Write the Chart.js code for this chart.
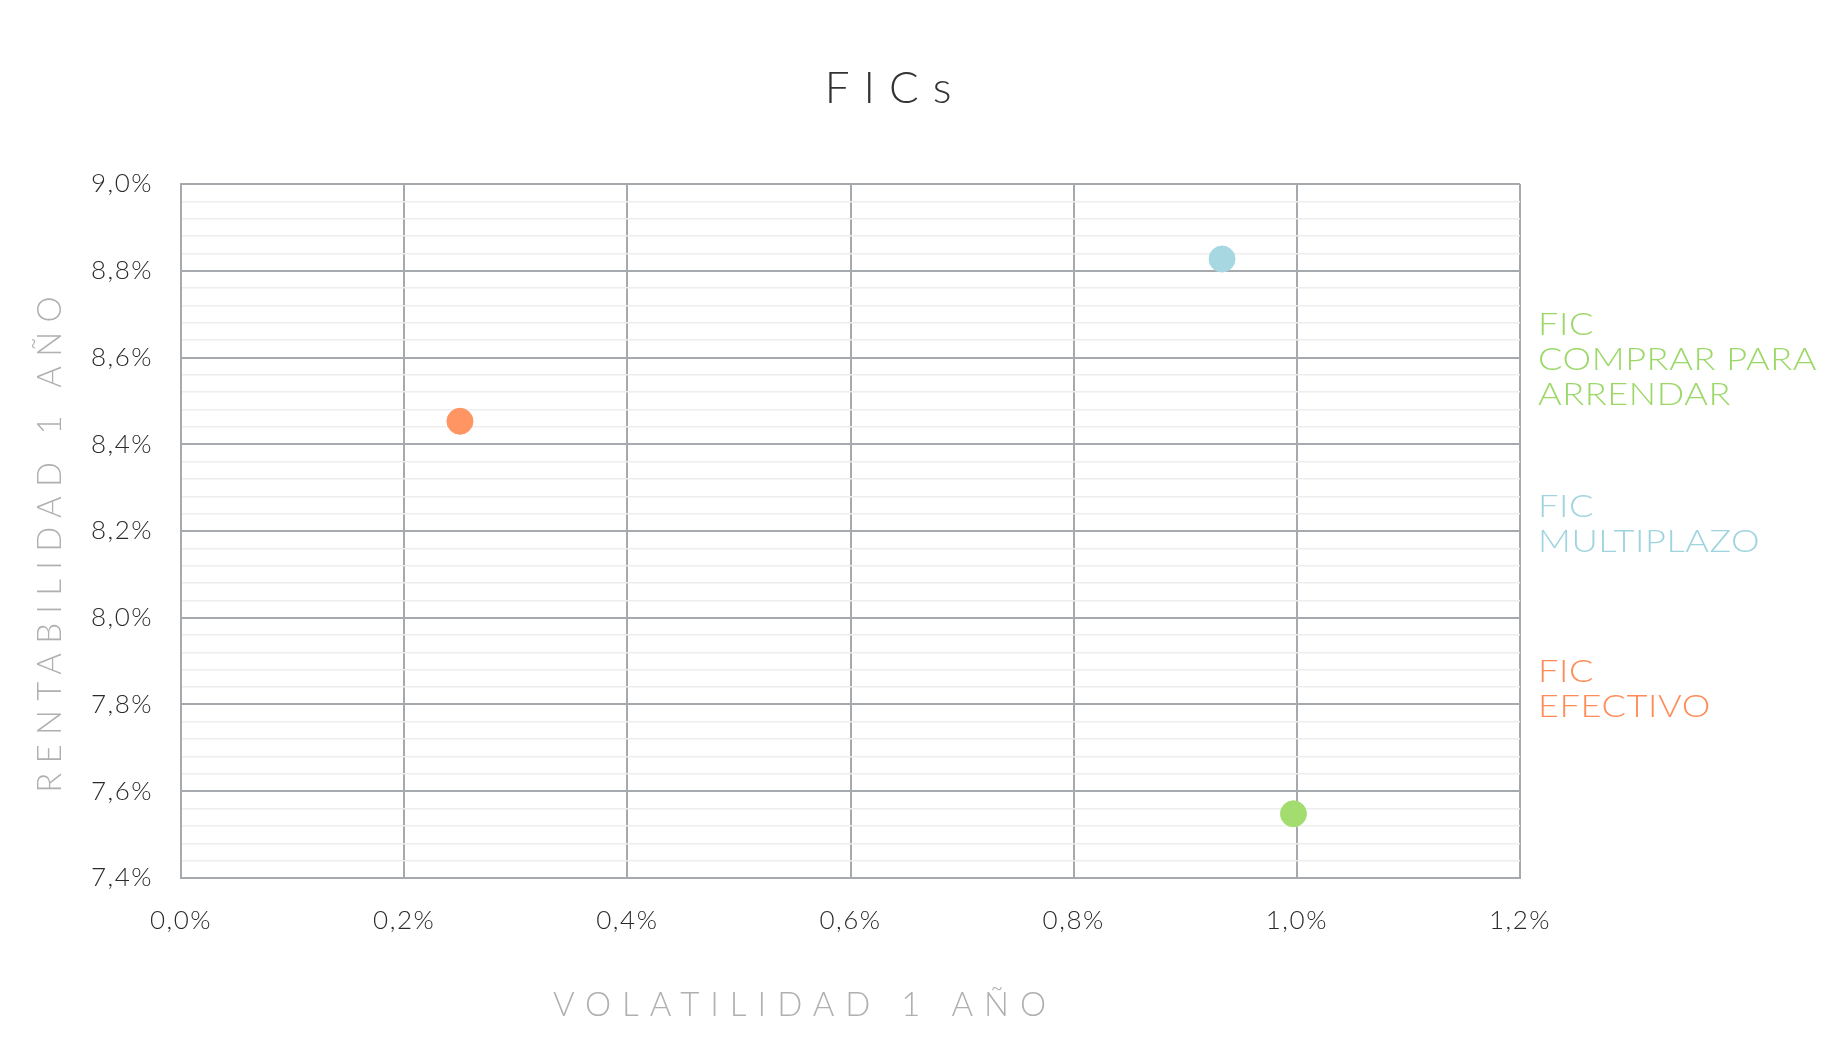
<!DOCTYPE html>
<html>
<head>
<meta charset="utf-8">
<title>FICs</title>
<script src="https://cdn.jsdelivr.net/npm/chart.js@4.4.1/dist/chart.umd.min.js"></script>
<style>
  html, body { margin: 0; padding: 0; background: #fff; }
  #wrap { width: 1840px; height: 1056px; }
</style>
</head>
<body>
<div id="wrap"><canvas id="chart1" width="1840" height="1056"></canvas></div>
<script>
// datos (en %)
const fondos = ['FIC COMPRAR PARA ARRENDAR', 'FIC MULTIPLAZO', 'FIC EFECTIVO'];
const etiquetas = [['FIC', 'COMPRAR PARA', 'ARRENDAR'], ['FIC', 'MULTIPLAZO'], ['FIC', 'EFECTIVO']];
const volatilidad = [0.997, 0.933, 0.25];
const rentabilidad = [7.548, 8.827, 8.453];
const colores = ['#a3dd6f', '#a7d8e1', '#ff9563'];
const colorTexto = ['#9bd867', '#9fd4df', '#ff8c58'];

const xMin = 0, xMax = 1.2, xPaso = 0.2;
const yMin = 7.4, yMax = 9.0, yPaso = 0.04;

const fuente = 'Lato';
let ctx = document.getElementById('chart1').getContext('2d');

function fmt(v){
    return v.toFixed(1).replace('.', ',') + '%';
}
function esMayor(v){
    return Math.abs(v * 5 - Math.round(v * 5)) < 1e-6;
}

// dibuja titulo, titulos de ejes y los nombres a la derecha (con espaciado de letras)
const textos = {
    id: 'textos',
    beforeDraw(chart){
        // un poco mas de aire entre letras para las etiquetas de los ejes
        chart.ctx.letterSpacing = '1.5px';
    },
    afterDraw(chart){
        const c = chart.ctx;
        const area = chart.chartArea;
        c.save();
        c.textBaseline = 'alphabetic';

        c.fillStyle = '#333';
        c.font = '300 44px ' + fuente;
        c.letterSpacing = '14px';
        c.textAlign = 'center';
        c.fillText('FICs', 895, 103);

        c.fillStyle = '#b0b0b0';
        c.font = '300 33px ' + fuente;
        c.letterSpacing = '11px';
        c.fillText('VOLATILIDAD 1 AÑO', 805, 1016);

        c.save();
        c.letterSpacing = '9.3px';
        c.translate(61, 540);
        c.rotate(-Math.PI / 2);
        c.fillText('RENTABILIDAD 1 AÑO', 0, 0);
        c.restore();

        // letra mas ancha para los nombres de los fondos
        c.letterSpacing = '0.5px';
        c.textAlign = 'left';
        c.font = '300 32px ' + fuente;
        const arriba = [150.5, 332.5, 497.5];
        etiquetas.forEach((lineas, i) => {
            c.fillStyle = colorTexto[i];
            lineas.forEach((t, j) => {
                c.save();
                c.translate(area.right + 18, area.top + arriba[i] + j * 35);
                c.scale(1.13, 1);
                c.fillText(t, 0, 0);
                c.restore();
            });
        });
        c.restore();
        c.letterSpacing = '0px';
    }
};

let myChart = new Chart(ctx, {
    type: 'scatter',
    data: {
        datasets: fondos.map((f, i) => ({
            label: f,
            data: [{ x: volatilidad[i], y: rentabilidad[i] }],
            backgroundColor: colores[i],
            borderColor: colores[i],
            pointRadius: 13,
            pointHoverRadius: 13
        }))
    },
    options: {
        responsive: false,
        animation: false,
        layout: { padding: { top: 184, right: 320, left: 0, bottom: 0 } },
        plugins: {
            legend: { display: false },
            title: { display: false },
            tooltip: { enabled: false }
        },
        scales: {
            x: {
                min: xMin,
                max: xMax,
                afterFit: s => { s.height = 178; },
                border: { color: '#a6a9ae', width: 2 },
                grid: { color: '#a6a9ae', lineWidth: 2, drawTicks: false },
                ticks: {
                    stepSize: xPaso,
                    padding: 27,
                    color: '#2a2a2a',
                    font: { family: fuente, size: 26, weight: '300' },
                    callback: v => fmt(v)
                }
            },
            y: {
                min: yMin,
                max: yMax,
                afterFit: s => { s.width = 181; },
                border: { color: '#a6a9ae', width: 2 },
                grid: {
                    drawTicks: false,
                    color: c => esMayor(c.tick.value) ? '#a6a9ae' : '#eeeeee',
                    lineWidth: c => esMayor(c.tick.value) ? 2 : 1.5
                },
                ticks: {
                    stepSize: yPaso,
                    autoSkip: false,
                    padding: 28,
                    color: '#2a2a2a',
                    font: { family: fuente, size: 26, weight: '300' },
                    callback: v => esMayor(v) ? fmt(v) : ''
                }
            }
        }
    },
    plugins: [textos]
});
</script>
</body>
</html>
